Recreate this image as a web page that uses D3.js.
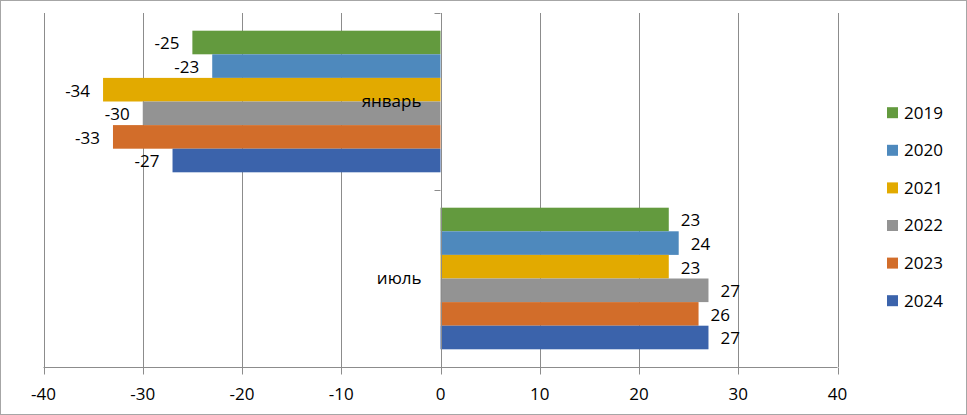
<!DOCTYPE html>
<html><head><meta charset="utf-8">
<script src="https://cdn.jsdelivr.net/npm/d3@7"></script>
<style>html,body{margin:0;padding:0;background:#fff;}svg{display:block;}text{font-family:"Open Sans",Lato,sans-serif;fill:#000;}</style>
</head><body>
<script>
const categories = ["январь", "июль"];
const years = ["2019", "2020", "2021", "2022", "2023", "2024"];
const january = [-25, -23, -34, -30, -33, -27];
const july = [23, 24, 23, 27, 26, 27];
const xTicks = [-40, -30, -20, -10, 0, 10, 20, 30, 40];
const colors = ["#639a3e", "#4e89bd", "#e2aa00", "#939393", "#d26d2a", "#3b63ab"];

const seriesByCat = [january, july];
const W = 967, H = 415;
const svg = d3.select("body").append("svg").attr("width", W).attr("height", H);
svg.append("rect").attr("x", 0.5).attr("y", 0.5).attr("width", W - 1).attr("height", H - 1)
  .attr("fill", "#fff").attr("stroke", "#a6a6a6");

const plotTop = 13, plotBottom = 367;
const x = d3.scaleLinear().domain([-40, 40]).range([43.5, 837.5]);
const y0 = d3.scaleBand().domain(categories).range([plotTop, plotBottom]).paddingInner(0.2).paddingOuter(0.1);
const y1 = d3.scaleBand().domain(years).range([0, y0.bandwidth()]);
const fs = 17;

// gridlines
svg.append("g").selectAll("line").data(xTicks).join("line")
  .attr("x1", d => Math.round(x(d)) + 0.5).attr("x2", d => Math.round(x(d)) + 0.5)
  .attr("y1", plotTop).attr("y2", plotBottom).attr("stroke", "#8c8c8c").attr("stroke-width", 1);

// bottom axis
const xAxis = svg.append("g").attr("transform", `translate(0,${plotBottom + 0.5})`);
xAxis.append("line").attr("x1", x(-40)).attr("x2", x(40)).attr("stroke", "#8c8c8c");
xAxis.selectAll(".t").data(xTicks).join("line").attr("class", "t")
  .attr("x1", d => Math.round(x(d)) + 0.5).attr("x2", d => Math.round(x(d)) + 0.5)
  .attr("y1", 0).attr("y2", 7).attr("stroke", "#8c8c8c");
xAxis.selectAll("text").data(xTicks).join("text")
  .attr("x", d => x(d)).attr("y", 27).attr("dy", "0.35em").attr("text-anchor", "middle")
  .attr("font-size", fs).text(d => d);

// bars
categories.forEach((c, ci) => {
  const g = svg.append("g").attr("transform", `translate(0,${y0(c)})`);
  const vals = seriesByCat[ci];
  g.selectAll("rect").data(vals).join("rect")
    .attr("x", d => x(Math.min(0, d))).attr("width", d => Math.abs(x(d) - x(0)))
    .attr("y", (d, i) => y1(years[i])).attr("height", y1.bandwidth())
    .attr("fill", (d, i) => colors[i]);
  g.selectAll("text").data(vals).join("text")
    .attr("x", d => d < 0 ? x(d) - 13 : x(d) + 12)
    .attr("y", (d, i) => y1(years[i]) + y1.bandwidth() / 2 + 1)
    .attr("dy", "0.35em").attr("text-anchor", d => d < 0 ? "end" : "start")
    .attr("font-size", fs).text(d => d);
});

// category axis
const cAxis = svg.append("g");
cAxis.append("line").attr("x1", Math.round(x(0)) + 0.5).attr("x2", Math.round(x(0)) + 0.5)
  .attr("y1", plotTop).attr("y2", plotBottom).attr("stroke", "#8c8c8c");
cAxis.selectAll(".ct").data([0, 1, 2]).join("line").attr("class", "ct")
  .attr("x1", x(0) - 6).attr("x2", x(0))
  .attr("y1", i => Math.round(plotTop + i * (plotBottom - plotTop) / 2) + 0.5)
  .attr("y2", i => Math.round(plotTop + i * (plotBottom - plotTop) / 2) + 0.5)
  .attr("stroke", "#8c8c8c");
cAxis.selectAll("text").data(categories).join("text")
  .attr("x", x(0) - 19).attr("y", d => y0(d) + y0.bandwidth() / 2)
  .attr("dy", "0.35em").attr("text-anchor", "end").attr("font-size", fs).text(d => d);

// legend
const leg = svg.append("g").attr("transform", "translate(887,0)");
years.forEach((yr, i) => {
  const cy = 112.7 + i * 37.6;
  leg.append("rect").attr("x", 0).attr("y", cy - 5.5).attr("width", 11).attr("height", 11).attr("fill", colors[i]);
  leg.append("text").attr("x", 17).attr("y", cy).attr("dy", "0.35em").attr("font-size", fs).text(yr);
});
</script>
</body></html>
